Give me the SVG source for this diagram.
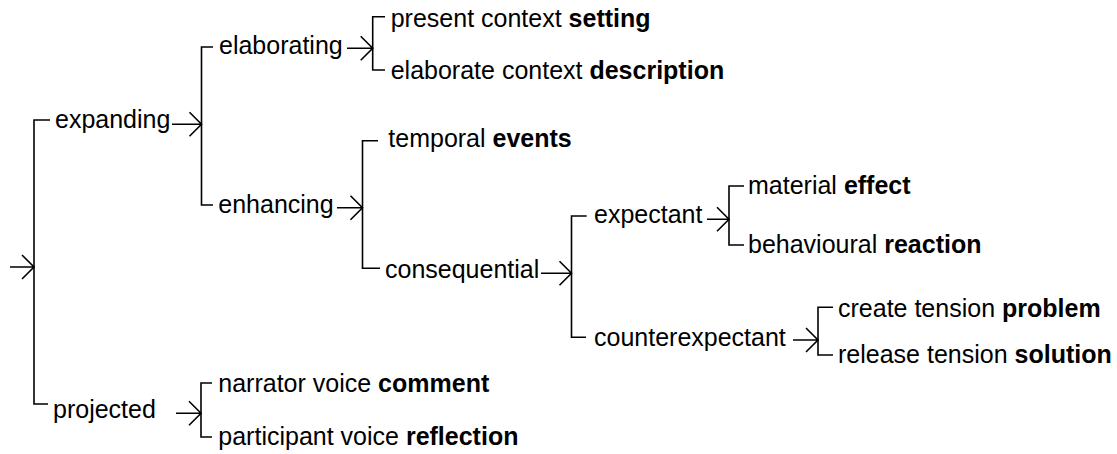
<svg xmlns="http://www.w3.org/2000/svg" width="1117" height="454" viewBox="0 0 1117 454">
<style>
text{font-family:"Liberation Sans",Arial,sans-serif;font-size:25px;fill:#000}
.b{font-weight:bold}
.ln{fill:none;stroke:#000;stroke-width:1.6}
</style>
<rect width="1117" height="454" fill="#fff"/>
<g id="connectors" class="ln">
<path d="M10,267H34M22,255L34,267L22,279"/>
<path d="M50,120H34V404H48"/>
<path d="M172,124.3H201.5M189.5,112.3L201.5,124.3L189.5,136.3"/>
<path d="M213,47H201.5V205H213"/>
<path d="M347,48.3H372.7M360.7,36.3L372.7,48.3L360.7,60.3"/>
<path d="M385,16.7H372.7V70H385"/>
<path d="M337,207.7H362.5M350.5,195.7L362.5,207.7L350.5,219.7"/>
<path d="M378,140.7H362.5V268.3H380"/>
<path d="M541,273.3H571.5M559.5,261.3L571.5,273.3L559.5,285.3"/>
<path d="M586.7,216H571.5V337.3H586"/>
<path d="M707,219.3H729M717,207.3L729,219.3L717,231.3"/>
<path d="M744,186H729V245H744"/>
<path d="M793,340H818M806,328L818,340L806,352"/>
<path d="M833,307.3H818V355H833"/>
<path d="M176,413.3H201M189,401.3L201,413.3L189,425.3"/>
<path d="M212,383H201V437H212"/>
</g>
<g id="expanding"><text x="55" y="128">expanding</text></g>
<g id="projected"><text x="53" y="418">projected</text></g>
<g id="elaborating"><text x="219" y="53.5">elaborating</text></g>
<g id="enhancing"><text x="218.3" y="213.3">enhancing</text></g>
<g id="setting"><text x="390.7" y="26.5">present context <tspan class="b">setting</tspan></text></g>
<g id="description"><text x="390.7" y="78.5">elaborate context <tspan class="b">description</tspan></text></g>
<g id="events"><text x="388.3" y="146.7">temporal <tspan class="b">events</tspan></text></g>
<g id="consequential"><text x="385" y="277.5">consequential</text></g>
<g id="expectant"><text x="594" y="223.3">expectant</text></g>
<g id="counterexpectant"><text x="594" y="346">counterexpectant</text></g>
<g id="effect"><text x="748" y="193.5">material <tspan class="b">effect</tspan></text></g>
<g id="reaction"><text x="748" y="253.3">behavioural <tspan class="b">reaction</tspan></text></g>
<g id="problem"><text x="838" y="316.7">create tension <tspan class="b">problem</tspan></text></g>
<g id="solution"><text x="838" y="363.3">release tension <tspan class="b">solution</tspan></text></g>
<g id="comment"><text x="218.3" y="392">narrator voice <tspan class="b">comment</tspan></text></g>
<g id="reflection"><text x="218.3" y="445">participant voice <tspan class="b">reflection</tspan></text></g>
</svg>
